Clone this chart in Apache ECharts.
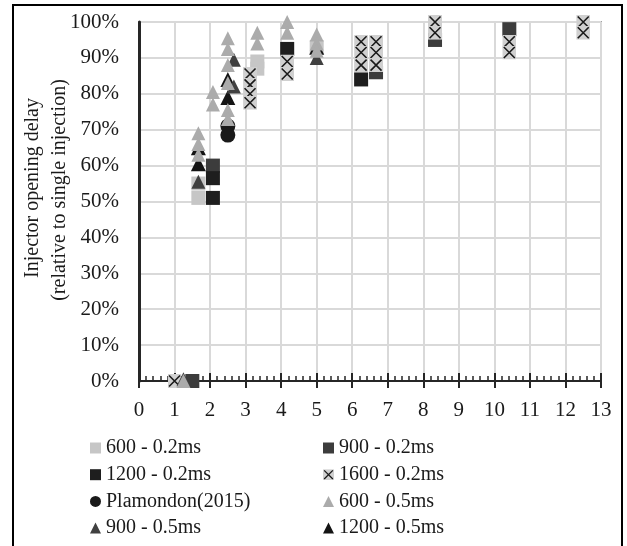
<!DOCTYPE html>
<html>
<head>
<meta charset="utf-8">
<script src="https://cdn.jsdelivr.net/npm/echarts@6/dist/echarts.min.js"></script>
<style>
  html, body { margin: 0; padding: 0; background: #ffffff; }
  #chart { width: 627px; height: 546px; }
</style>
</head>
<body>
<div id="chart"></div>
<script>
// ---- Data (x: load ratio, y: % of single-injection delay) ----
const xTicks = [0,1,2,3,4,5,6,7,8,9,10,11,12,13];
const yTicks = [0,10,20,30,40,50,60,70,80,90,100];

const s600_02 = [[1.67,51],[1.67,55],[3.33,89],[3.33,87],[5.0,93]];
const s900_02 = [[1.5,0],[2.08,60],[6.67,86],[8.33,95],[10.42,98]];
const s1200_02 = [[2.08,56.5],[2.08,51],[4.17,92.5],[6.25,84]];
const s1600_02 = [[1.0,0],[3.125,85.5],[3.125,82.5],[3.125,80],[3.125,77.5],
  [4.17,89],[4.17,85.5],[6.25,94.5],[6.25,91.5],[6.25,88],[6.67,94.5],[6.67,91.5],[6.67,88],
  [8.33,100],[8.33,97],[10.42,94.5],[10.42,91.5],[12.5,100],[12.5,97]];
const sPlamondon = [[2.5,71],[2.5,68.5]];
const s600_05 = [[1.25,0],[1.67,69],[1.67,66],[1.67,63],[2.08,80.5],[2.08,77],
  [2.5,95.5],[2.5,92.5],[2.5,88],[2.5,83],[2.5,75.5],[2.5,73],
  [3.33,97],[3.33,94],[4.17,100],[4.17,97],[5.0,96.5],[5.0,94],[5.0,92]];
const s900_05 = [[1.25,0.5],[1.67,55.5],[2.67,89.5],[2.67,82],[5.0,90]];
const s1200_05 = [[1.67,65],[1.67,60.5],[2.5,84],[2.5,79],[5.0,93]];

const names = ['600 - 0.2ms','900 - 0.2ms','1200 - 0.2ms','1600 - 0.2ms',
  'Plamondon(2015)','600 - 0.5ms','900 - 0.5ms','1200 - 0.5ms'];

const FONT = '"Liberation Serif", "Times New Roman", serif';
const xSvg = "<svg xmlns='http://www.w3.org/2000/svg' width='28' height='28'>" +
  "<rect width='28' height='28' fill='#d0d0d0'/>" +
  "<path d='M3,3L25,25M25,3L3,25' stroke='#1a1a1a' stroke-width='3.2'/></svg>";
const xSymbol = 'image://data:image/svg+xml;charset=utf-8,' + encodeURIComponent(xSvg);

function sc(name, data, symbol, color, size) {
  return {
    name: name, type: 'scatter', data: data, symbol: symbol, symbolSize: size,
    itemStyle: { color: color, opacity: 1 },
    emphasis: { disabled: true }, xAxisIndex: 0, yAxisIndex: 0
  };
}

const legendText = { fontFamily: FONT, fontSize: 20, color: '#1a1a1a', lineHeight: 20 };

const chart = echarts.init(document.getElementById('chart'), null, { renderer: 'canvas' });
chart.setOption({
  animation: false,
  backgroundColor: '#ffffff',
  grid: { left: 139, right: 26, top: 22, bottom: 165, show: true,
          borderColor: '#595959', borderWidth: 1.5, backgroundColor: 'transparent' },
  xAxis: [{
    type: 'value', min: xTicks[0], max: xTicks[xTicks.length-1], interval: 1,
    axisLine: { show: true, onZero: false, lineStyle: { color: '#262626', width: 2 } },
    axisTick: { show: true, inside: true, length: 8, lineStyle: { color: '#262626', width: 2 } },
    minorTick: { show: true, splitNumber: 5, length: 5, lineStyle: { color: '#262626', width: 1.5 } },
    splitLine: { show: true, lineStyle: { color: '#d9d9d9', width: 2 } },
    axisLabel: { fontFamily: FONT, fontSize: 21, color: '#1a1a1a', margin: 19 }
  }, {
    type: 'value', position: 'bottom', offset: 0,
    min: xTicks[0], max: xTicks[xTicks.length-1], interval: 1,
    axisLine: { show: false },
    axisTick: { show: true, inside: false, length: 7, lineStyle: { color: '#262626', width: 2 } },
    splitLine: { show: false }, axisLabel: { show: false }
  }],
  yAxis: {
    type: 'value', min: yTicks[0], max: yTicks[yTicks.length-1], interval: 10,
    axisLine: { show: true, onZero: false, lineStyle: { color: '#262626', width: 3 } },
    axisTick: { show: false },
    splitLine: { show: true, lineStyle: { color: '#d9d9d9', width: 2 } },
    axisLabel: { fontFamily: FONT, fontSize: 21, color: '#1a1a1a', margin: 20, formatter: '{value}%' }
  },
  legend: [{
    orient: 'vertical', left: 90, top: 438, height: 120, padding: 0,
    itemWidth: 11, itemHeight: 11, itemGap: 6.7,
    textStyle: legendText, selectedMode: false,
    data: [{ name: names[0], icon: 'rect' }, { name: names[2], icon: 'rect' },
           { name: names[4], icon: 'circle' }, { name: names[6], icon: 'triangle' }]
  }, {
    orient: 'vertical', left: 323, top: 438, height: 120, padding: 0,
    itemWidth: 11, itemHeight: 11, itemGap: 6.7,
    textStyle: legendText, selectedMode: false,
    data: [{ name: names[1], icon: 'rect' }, { name: names[3], icon: xSymbol },
           { name: names[5], icon: 'triangle' }, { name: names[7], icon: 'triangle' }]
  }],
  graphic: [
    { type: 'rect', shape: { x: 13, y: 5, width: 609, height: 570 },
      style: { fill: 'none', stroke: '#000', lineWidth: 2 }, silent: true },
    { type: 'text', x: 33, y: 188, rotation: Math.PI / 2,
      style: { text: 'Injector opening delay', fontFamily: FONT, fontSize: 20,
               fill: '#1a1a1a', align: 'center', verticalAlign: 'middle' } },
    { type: 'text', x: 60, y: 190, rotation: Math.PI / 2,
      style: { text: '(relative to single injection)', fontFamily: FONT, fontSize: 20,
               fill: '#1a1a1a', align: 'center', verticalAlign: 'middle' } }
  ],
  series: [
    sc(names[0], s600_02, 'rect', '#c6c6c6', 14),
    sc(names[1], s900_02, 'rect', '#3c3c3c', 14),
    sc(names[2], s1200_02, 'rect', '#1e1e1e', 14),
    sc(names[3], s1600_02, xSymbol, '#d0d0d0', 14),
    sc(names[4], sPlamondon, 'circle', '#1a1a1a', 15),
    sc(names[7], s1200_05, 'triangle', '#141414', 15),
    sc(names[6], s900_05, 'triangle', '#404040', 14),
    sc(names[5], s600_05, 'triangle', '#ababab', 14)
  ]
});
</script>
</body>
</html>
